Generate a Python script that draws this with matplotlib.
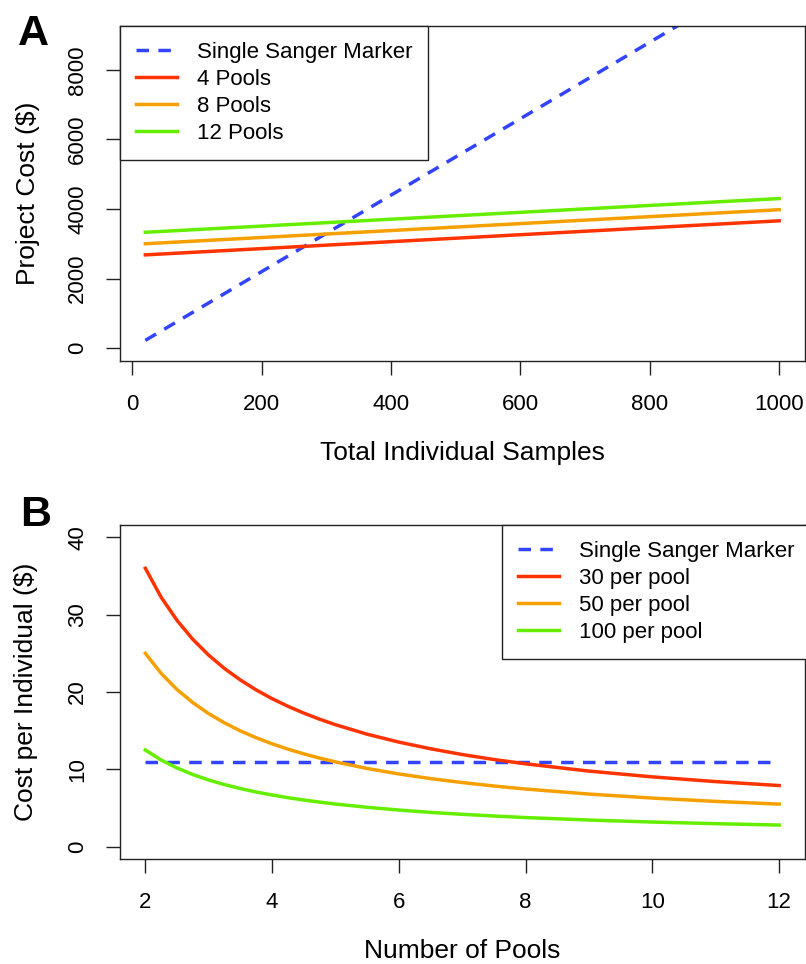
import matplotlib
matplotlib.use("Agg")
import matplotlib.pyplot as plt
from matplotlib.lines import Line2D

plt.rcParams['font.family'] = ['Liberation Sans', 'DejaVu Sans']

# ---------------- Data ----------------
# Panel A
samples_x = [20, 1000]
sanger_cost = [220, 11000]
pools4_cost = [2680, 3660]
pools8_cost = [3000, 3980]
pools12_cost = [3330, 4300]
a_xticks = [0, 200, 400, 600, 800, 1000]
a_yticks = [0, 2000, 4000, 6000, 8000]
a_labels = ["Single Sanger Marker", "4 Pools", "8 Pools", "12 Pools"]

# Panel B
n_pools = [2, 2.25, 2.5, 2.75, 3, 3.25, 3.5, 3.75, 4, 4.25, 4.5, 4.75, 5,
           5.5, 6, 6.5, 7, 7.5, 8, 9, 10, 11, 12]
sanger_per_ind = [11] * len(n_pools)
per30 = [36.0, 32.25, 29.26, 26.80, 24.76, 23.03, 21.55, 20.26, 19.14, 18.15,
         17.27, 16.48, 15.77, 14.54, 13.52, 12.66, 11.91, 11.27, 10.71, 9.77,
         9.02, 8.41, 7.90]
per50 = [25.0, 22.4, 20.32, 18.62, 17.2, 16.0, 14.97, 14.08, 13.3, 12.61,
         12.0, 11.45, 10.96, 10.11, 9.4, 8.8, 8.29, 7.84, 7.45, 6.8,
         6.28, 5.85, 5.5]
per100 = [12.5, 11.2, 10.17, 9.32, 8.62, 8.02, 7.51, 7.06, 6.68, 6.33,
          6.03, 5.76, 5.51, 5.09, 4.73, 4.43, 4.18, 3.96, 3.76, 3.44,
          3.18, 2.97, 2.79]
b_xticks = [2, 4, 6, 8, 10, 12]
b_yticks = [0, 10, 20, 30, 40]
b_labels = ["Single Sanger Marker", "30 per pool", "50 per pool", "100 per pool"]

# ---------------- Style ----------------
C_BLUE = '#3344FF'
C_RED = '#FF3300'
C_ORANGE = '#F5A000'
C_GREEN = '#66EE00'
LW = 2.5
DASH = (3.6, 2.7)

W, H = 806, 964
fig = plt.figure(figsize=(W / 100, H / 100), dpi=100)

def px_axes(left, top, right, bottom):
    return fig.add_axes([left / W, 1 - bottom / H, (right - left) / W, (bottom - top) / H])

axA = px_axes(120, 26, 804.5, 361)
axB = px_axes(120, 525, 804.5, 859)

def style(ax):
    for s in ax.spines.values():
        s.set_linewidth(1.0)
        s.set_color('#222222')
    ax.tick_params(axis='both', direction='out', length=10, width=1.0,
                   color='#222222', labelsize=16, pad=14)
    ax.tick_params(axis='y', labelrotation=90, pad=13)
    for lab in ax.get_yticklabels():
        lab.set_va('center')

# Panel A
axA.plot(samples_x, sanger_cost, color=C_BLUE, lw=LW, dashes=DASH)
axA.plot(samples_x, pools4_cost, color=C_RED, lw=LW)
axA.plot(samples_x, pools8_cost, color=C_ORANGE, lw=LW)
axA.plot(samples_x, pools12_cost, color=C_GREEN, lw=LW)
axA.set_xlim(-19.2, 1039.2)
axA.set_ylim(-374, 9266)
axA.set_xticks(a_xticks)
axA.set_yticks(a_yticks)
style(axA)
axA.set_xlabel("Total Individual Samples", fontsize=19)
axA.set_ylabel("Project Cost ($)", fontsize=19)
axA.xaxis.set_label_coords(0.5, (361 - 453) / 335)
axA.xaxis.label.set_va('center')
axA.yaxis.set_label_coords((28 - 120) / 684.5, 0.5)
axA.yaxis.label.set_va('center')

def make_handles():
    return [Line2D([], [], color=C_BLUE, lw=LW, dashes=DASH),
            Line2D([], [], color=C_RED, lw=LW),
            Line2D([], [], color=C_ORANGE, lw=LW),
            Line2D([], [], color=C_GREEN, lw=LW)]

LEG_KW = dict(borderaxespad=0, fancybox=False, edgecolor='#222222', framealpha=1,
              fontsize=16, handlelength=1.85, handletextpad=0.9, borderpad=0.7,
              labelspacing=0.28)

legA = axA.legend(make_handles(), a_labels, loc='upper left', bbox_to_anchor=(0, 1),
                  **LEG_KW)
legA.get_frame().set_linewidth(1.0)

# Panel B
axB.plot(n_pools, sanger_per_ind, color=C_BLUE, lw=LW, dashes=DASH)
axB.plot(n_pools, per30, color=C_RED, lw=LW)
axB.plot(n_pools, per50, color=C_ORANGE, lw=LW)
axB.plot(n_pools, per100, color=C_GREEN, lw=LW)
axB.set_xlim(1.6, 12.4)
axB.set_ylim(-1.6, 41.6)
axB.set_xticks(b_xticks)
axB.set_yticks(b_yticks)
style(axB)
axB.set_xlabel("Number of Pools", fontsize=19)
axB.set_ylabel("Cost per Individual ($)", fontsize=19)
axB.xaxis.set_label_coords(0.5, (859 - 951) / 334)
axB.xaxis.label.set_va('center')
axB.yaxis.set_label_coords((26 - 120) / 684.5, 0.5)
axB.yaxis.label.set_va('center')

legB = axB.legend(make_handles(), b_labels, loc='upper left',
                  bbox_to_anchor=((502 - 120) / 684.5, 1), **LEG_KW)
legB.get_frame().set_linewidth(1.0)

# Panel letters
fig.text(18 / W, 1 - 45 / H, "A", fontsize=31, fontweight='bold', ha='left', va='baseline')
fig.text(20 / W, 1 - 526 / H, "B", fontsize=31, fontweight='bold', ha='left', va='baseline')

fig.savefig("out.png", dpi=100)
